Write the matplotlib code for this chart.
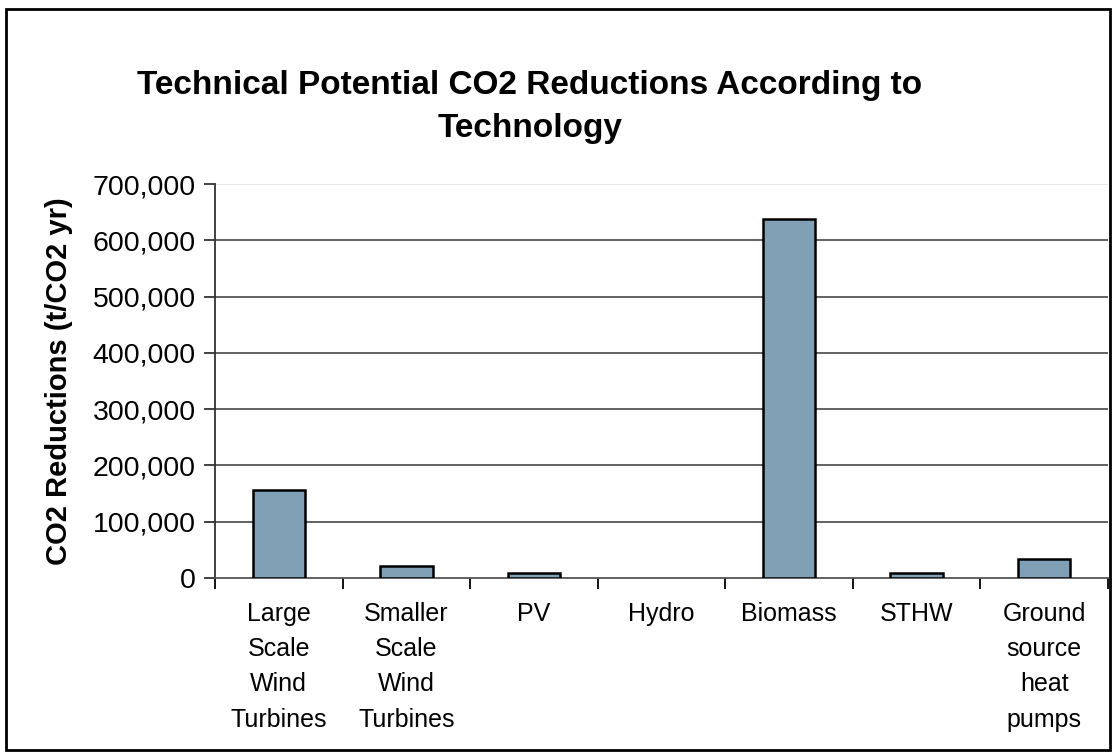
import numpy as np
import matplotlib.pyplot as plt
from matplotlib.patches import Rectangle
from matplotlib.ticker import FuncFormatter, FixedLocator

plt.rcParams['font.family'] = ['Liberation Sans', 'DejaVu Sans']

# data
categories = ['Large\nScale\nWind\nTurbines', 'Smaller\nScale\nWind\nTurbines', 'PV', 'Hydro',
              'Biomass', 'STHW', 'Ground\nsource\nheat\npumps']
reductions = [157000, 21000, 8000, 0, 637000, 8000, 33000]
yticks = [0, 100000, 200000, 300000, 400000, 500000, 600000, 700000]

fig = plt.figure(figsize=(11.15, 7.54), dpi=100)
ax = fig.add_axes([215/1115, 1-578/754, (1108-215)/1115, (578-184)/754])

x = np.arange(len(categories))
edges = ['black' if v > 0 else 'none' for v in reductions]
ax.bar(x, reductions, width=0.41, color='#7fa0b5', edgecolor=edges, linewidth=1.8, zorder=3)

ax.set_xlim(-0.5, len(categories) - 0.5)
ax.set_ylim(0, 700000)
ax.set_yticks(yticks)
ax.yaxis.set_major_formatter(FuncFormatter(lambda v, p: f'{int(v):,}'))
for v in yticks[1:-1]:
    ax.axhline(v, color='#555555', linewidth=1.3, zorder=1)
ax.axhline(700000, color='#e6e6e6', linewidth=1.3, zorder=1)

ax.set_xticks(x)
ax.set_xticklabels(categories, fontsize=18, linespacing=1.6)
ax.xaxis.set_minor_locator(FixedLocator(np.arange(len(categories) + 1) - 0.5))
ax.tick_params(axis='x', which='major', length=0, pad=17)
ax.tick_params(axis='x', which='minor', length=8, width=1.3, color='black', direction='out')
ax.tick_params(axis='y', labelsize=20.5, length=8, width=1.3, color='#333333', pad=6)

for s in ['top', 'right']:
    ax.spines[s].set_visible(False)
ax.spines['left'].set_color('#333333')
ax.spines['left'].set_linewidth(1.3)
ax.spines['bottom'].set_color('#555555')
ax.spines['bottom'].set_linewidth(1.3)

ax.set_ylabel('CO2 Reductions (t/CO2 yr)', fontsize=21, fontweight='bold', labelpad=14)
fig.text(0.475, 1-107/754, 'Technical Potential CO2 Reductions According to\nTechnology',
         ha='center', va='center', fontsize=24, fontweight='bold', linespacing=1.5)

fig.patches.append(Rectangle((6/1115, 4/754), 1104/1115, 741/754, transform=fig.transFigure,
                             fill=False, edgecolor='black', linewidth=2))

fig.savefig('out.png', dpi=100)
